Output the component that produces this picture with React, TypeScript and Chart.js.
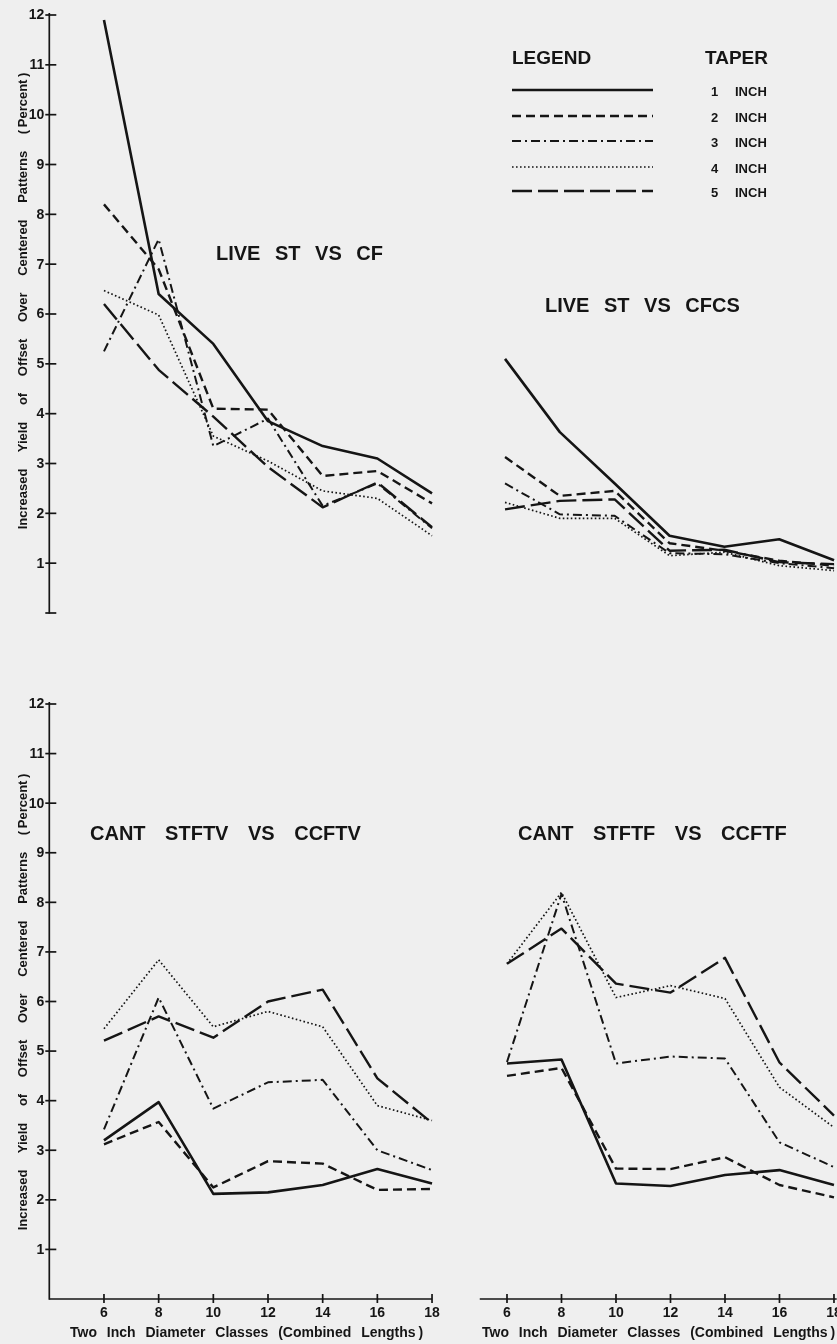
import React, { useEffect, useRef } from "react";
import { Chart, registerables } from "chart.js";

Chart.register(...registerables);

// ---------- data ----------
const diameterClasses = [6, 8, 10, 12, 14, 16, 18];
const yTickValues = [1, 2, 3, 4, 5, 6, 7, 8, 9, 10, 11, 12];
const xTickValues = [6, 8, 10, 12, 14, 16, 18];
const taperLabels = ["1 INCH", "2 INCH", "3 INCH", "4 INCH", "5 INCH"];

// LIVE ST VS CF
const liveCF1 = [11.9, 6.4, 5.4, 3.85, 3.35, 3.1, 2.4];
const liveCF2 = [8.2, 6.9, 4.1, 4.08, 2.75, 2.85, 2.2];
const liveCF3 = [5.25, 7.5, 3.35, 3.9, 2.15, 2.6, 1.7];
const liveCF4 = [6.47, 5.98, 3.55, 3.05, 2.45, 2.3, 1.55];
const liveCF5 = [6.2, 4.88, 3.94, 2.93, 2.12, 2.62, 1.72];

// LIVE ST VS CFCS
const liveCFCS1 = [5.1, 3.63, 2.6, 1.55, 1.33, 1.48, 1.06];
const liveCFCS2 = [3.13, 2.35, 2.45, 1.4, 1.25, 1.05, 0.95];
const liveCFCS3 = [2.6, 1.98, 1.95, 1.2, 1.18, 1.0, 0.9];
const liveCFCS4 = [2.22, 1.9, 1.9, 1.15, 1.22, 0.95, 0.85];
const liveCFCS5 = [2.08, 2.25, 2.28, 1.25, 1.27, 1.02, 0.98];

// CANT STFTV VS CCFTV
const cantTV1 = [3.2, 3.97, 2.12, 2.15, 2.3, 2.62, 2.33];
const cantTV2 = [3.12, 3.57, 2.25, 2.78, 2.73, 2.2, 2.22];
const cantTV3 = [3.42, 6.08, 3.84, 4.37, 4.42, 3.0, 2.6];
const cantTV4 = [5.45, 6.84, 5.49, 5.8, 5.49, 3.9, 3.6];
const cantTV5 = [5.21, 5.7, 5.27, 6.0, 6.24, 4.45, 3.55];

// CANT STFTF VS CCFTF
const cantTF1 = [4.75, 4.83, 2.33, 2.28, 2.5, 2.6, 2.3];
const cantTF2 = [4.5, 4.66, 2.63, 2.62, 2.86, 2.3, 2.05];
const cantTF3 = [4.78, 8.17, 4.75, 4.89, 4.85, 3.16, 2.66];
const cantTF4 = [6.76, 8.2, 6.08, 6.32, 6.06, 4.27, 3.46];
const cantTF5 = [6.76, 7.47, 6.36, 6.18, 6.88, 4.77, 3.7];

// ---------- styles ----------
const INK = "#151515";
const BG = "#efefef";
const FONT = "'Liberation Sans', Arial, sans-serif";

const taperStyles = [
  { borderDash: [] as number[], borderWidth: 2.6 },
  { borderDash: [9, 5], borderWidth: 2.4 },
  { borderDash: [9, 4, 2, 4], borderWidth: 2.0 },
  { borderDash: [1.6, 2.4], borderWidth: 1.7 },
  { borderDash: [20, 6], borderWidth: 2.4 },
];

type Rect = { left: number; top: number; width: number; height: number };
type Area = { left: number; right: number; top: number; bottom: number };
type PanelDef = {
  key: string;
  series: number[][];
  canvas: Rect;
  area: Area;
  xRange: [number, number];
  yAxis?: { at: number; from: number; to: number; ticks: number[]; labels: number[] };
  xAxis?: { at: number; from: number; to: number; ticks: number[] };
  legend?: boolean;
};

const panels: PanelDef[] = [
  {
    key: "tl",
    series: [liveCF1, liveCF2, liveCF3, liveCF4, liveCF5],
    canvas: { left: 0, top: 0, width: 470, height: 640 },
    area: { left: 49.3, right: 445.7, top: 15, bottom: 613 },
    xRange: [4, 18.5],
    yAxis: { at: 4, from: 0, to: 12, ticks: [0, ...yTickValues], labels: yTickValues },
  },
  {
    key: "tr",
    series: [liveCFCS1, liveCFCS2, liveCFCS3, liveCFCS4, liveCFCS5],
    canvas: { left: 440, top: 0, width: 397, height: 640 },
    area: { left: 477.6, right: 836.8, top: 15, bottom: 613 },
    xRange: [5, 18.1],
    legend: true,
  },
  {
    key: "bl",
    series: [cantTV1, cantTV2, cantTV3, cantTV4, cantTV5],
    canvas: { left: 0, top: 650, width: 470, height: 694 },
    area: { left: 49.3, right: 445.7, top: 704, bottom: 1299 },
    xRange: [4, 18.5],
    yAxis: { at: 4, from: 0, to: 12, ticks: yTickValues, labels: yTickValues },
    xAxis: { at: 0, from: 4, to: 18, ticks: xTickValues },
  },
  {
    key: "br",
    series: [cantTF1, cantTF2, cantTF3, cantTF4, cantTF5],
    canvas: { left: 440, top: 650, width: 397, height: 694 },
    area: { left: 479.75, right: 836.7, top: 704, bottom: 1299 },
    xRange: [5, 18.1],
    xAxis: { at: 0, from: 5, to: 18.1, ticks: xTickValues },
  },
];

// legend line placement (page px)
const legendLineX: [number, number] = [512, 653];
const legendRowY = [90, 116, 141, 167, 191];

function makeDecorPlugin(p: PanelDef) {
  return {
    id: "decor_" + p.key,
    afterDraw(chart: any) {
      const ctx: CanvasRenderingContext2D = chart.ctx;
      const xs = chart.scales.x;
      const ys = chart.scales.y;
      const seg = (x1: number, y1: number, x2: number, y2: number) => {
        ctx.beginPath();
        ctx.moveTo(x1, y1);
        ctx.lineTo(x2, y2);
        ctx.stroke();
      };
      ctx.save();
      ctx.strokeStyle = INK;
      ctx.fillStyle = INK;
      ctx.setLineDash([]);
      ctx.lineWidth = 1.7;
      ctx.lineCap = "butt";
      if (p.yAxis) {
        const ax = xs.getPixelForValue(p.yAxis.at);
        seg(ax, ys.getPixelForValue(p.yAxis.from) + 0.8, ax, ys.getPixelForValue(p.yAxis.to) - 2);
        for (const v of p.yAxis.ticks) {
          const py = ys.getPixelForValue(v);
          seg(ax - 4, py, ax + 7, py);
        }
        ctx.font = `bold 14px ${FONT}`;
        ctx.textAlign = "right";
        ctx.textBaseline = "middle";
        for (const v of p.yAxis.labels) {
          ctx.fillText(String(v), ax - 5, ys.getPixelForValue(v) + 0.5);
        }
      }
      if (p.xAxis) {
        const ay = ys.getPixelForValue(p.xAxis.at);
        seg(xs.getPixelForValue(p.xAxis.from), ay, xs.getPixelForValue(p.xAxis.to), ay);
        for (const v of p.xAxis.ticks) {
          const px = xs.getPixelForValue(v);
          seg(px, ay - 5, px, ay + 4);
        }
        ctx.font = `bold 14px ${FONT}`;
        ctx.textAlign = "center";
        ctx.textBaseline = "middle";
        for (const v of p.xAxis.ticks) {
          ctx.fillText(String(v), xs.getPixelForValue(v), ay + 14);
        }
      }
      if (p.legend) {
        const ox = p.canvas.left;
        const oy = p.canvas.top;
        chart.data.datasets.forEach((ds: any, i: number) => {
          ctx.lineWidth = ds.borderWidth;
          ctx.setLineDash(ds.borderDash || []);
          const y = legendRowY[i] - oy;
          seg(legendLineX[0] - ox, y, legendLineX[1] - ox, y);
        });
      }
      ctx.restore();
    },
  };
}

function Panel({ p }: { p: PanelDef }) {
  const ref = useRef<HTMLCanvasElement | null>(null);
  useEffect(() => {
    if (!ref.current) return;
    const padding = {
      left: p.area.left - p.canvas.left,
      right: p.canvas.left + p.canvas.width - p.area.right,
      top: p.area.top - p.canvas.top,
      bottom: p.canvas.top + p.canvas.height - p.area.bottom,
    };
    const chart = new Chart(ref.current, {
      type: "line",
      data: {
        datasets: p.series.map((vals, i) => ({
          label: taperLabels[i],
          data: diameterClasses.map((d, j) => ({ x: d, y: vals[j] })),
          borderColor: INK,
          backgroundColor: INK,
          borderWidth: taperStyles[i].borderWidth,
          borderDash: taperStyles[i].borderDash,
          borderJoinStyle: "round" as const,
          pointRadius: 0,
          tension: 0,
          fill: false,
        })),
      },
      options: {
        animation: false,
        responsive: false,
        devicePixelRatio: 1,
        events: [],
        layout: { padding },
        plugins: { legend: { display: false }, tooltip: { enabled: false } },
        scales: {
          x: { type: "linear", min: p.xRange[0], max: p.xRange[1], display: false },
          y: { type: "linear", min: 0, max: 12, display: false },
        },
      },
      plugins: [makeDecorPlugin(p)],
    });
    return () => chart.destroy();
  }, [p]);
  return (
    <canvas
      ref={ref}
      width={p.canvas.width}
      height={p.canvas.height}
      style={{
        position: "absolute",
        left: p.canvas.left,
        top: p.canvas.top,
        width: p.canvas.width,
        height: p.canvas.height,
      }}
    />
  );
}

function Txt({
  x,
  y,
  size,
  children,
  ws = 0,
  ls = 0,
}: {
  x: number;
  y: number;
  size: number;
  children: React.ReactNode;
  ws?: number;
  ls?: number;
}) {
  return (
    <div
      style={{
        position: "absolute",
        left: x,
        top: y,
        transform: "translateY(-50%)",
        font: `bold ${size}px ${FONT}`,
        lineHeight: 1,
        wordSpacing: ws,
        letterSpacing: ls,
        whiteSpace: "pre",
        color: INK,
      }}
    >
      {children}
    </div>
  );
}

function YTitle({ cx, cy }: { cx: number; cy: number }) {
  return (
    <div
      style={{
        position: "absolute",
        left: cx,
        top: cy,
        transform: "translate(-50%, -50%) rotate(-90deg)",
        font: `bold 13px ${FONT}`,
        lineHeight: 1,
        wordSpacing: 13,
        whiteSpace: "pre",
        color: INK,
      }}
    >
      {"Increased Yield of Offset Over Centered Patterns (\u2009Percent\u2009)"}
    </div>
  );
}

export default function App() {
  return (
    <div
      style={{
        position: "absolute",
        left: 0,
        top: 0,
        width: 837,
        height: 1344,
        background: BG,
        overflow: "hidden",
      }}
    >
      {panels.map((p) => (
        <Panel key={p.key} p={p} />
      ))}

      <Txt x={216} y={253} size={20} ws={9}>LIVE ST VS CF</Txt>
      <Txt x={545} y={305} size={20} ws={9}>LIVE ST VS CFCS</Txt>
      <Txt x={90} y={833} size={20} ws={14}>CANT STFTV VS CCFTV</Txt>
      <Txt x={518} y={833} size={20} ws={14}>CANT STFTF VS CCFTF</Txt>

      <Txt x={512} y={57} size={19}>LEGEND</Txt>
      <Txt x={705} y={57} size={19}>TAPER</Txt>
      {taperLabels.map((t, i) => {
        const [num, unit] = t.split(" ");
        return (
          <React.Fragment key={t}>
            <Txt x={711} y={legendRowY[i] + 1} size={13}>{num}</Txt>
            <Txt x={735} y={legendRowY[i] + 1} size={13}>{unit}</Txt>
          </React.Fragment>
        );
      })}

      <YTitle cx={22} cy={301} />
      <YTitle cx={22} cy={1002} />

      <Txt x={70} y={1332} size={14} ws={6}>{"Two Inch Diameter Classes (Combined Lengths\u2009)"}</Txt>
      <Txt x={482} y={1332} size={14} ws={6}>{"Two Inch Diameter Classes (Combined Lengths\u2009)"}</Txt>
    </div>
  );
}
